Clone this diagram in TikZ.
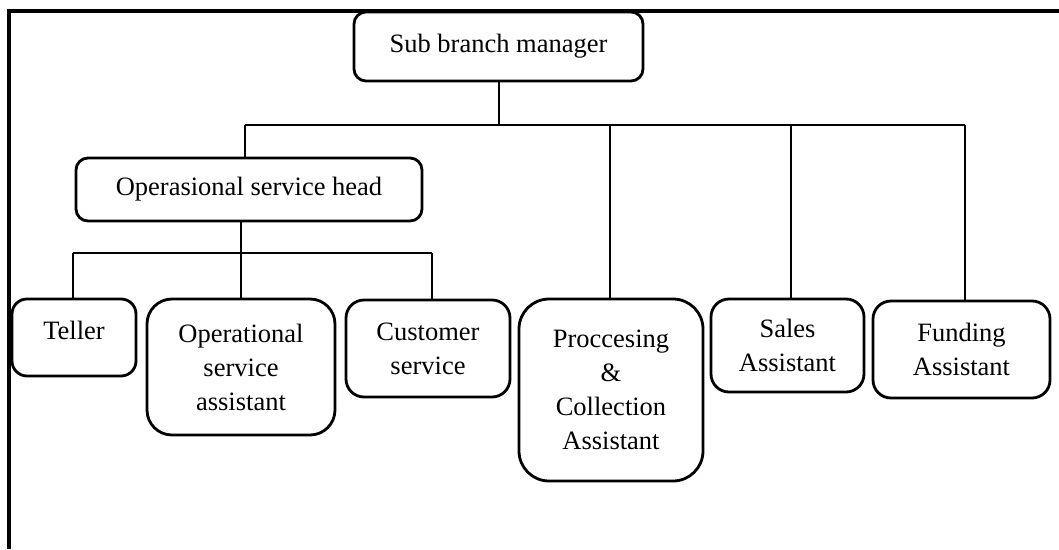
\documentclass[tikz,border=0pt]{standalone}
\usepackage{fontspec}
\setmainfont{Liberation Serif}
\begin{document}
\begin{tikzpicture}[x=1pt,y=-1pt,
  line width=2.8pt,
  box/.style={draw, align=center, inner sep=0pt, font=\fontsize{26.5}{34}\selectfont},
  conn/.style={line width=2.8pt}]
\useasboundingbox (0,0) rectangle (1059,549);
% frame
\draw[line width=3.2pt] (9,549) -- (9,11) -- (1059,11);
% boxes
\node[box, rounded corners=12pt, minimum width=289pt, minimum height=69pt] (mgr) at (498.5,46.5) {Sub branch manager};
\node[box, rounded corners=12pt, minimum width=346pt, minimum height=63pt] (head) at (249,189.5) {Operasional service head};
\node[box, rounded corners=15pt, minimum width=124pt, minimum height=77pt, text depth=14pt] (teller) at (74,337.5) {Teller};
\node[box, rounded corners=25pt, minimum width=188pt, minimum height=136pt] (opa) at (241,367) {Operational\\service\\assistant};
\node[box, rounded corners=18pt, minimum width=164pt, minimum height=97pt] (cust) at (428,348.5) {Customer\\service};
\node[box, rounded corners=30pt, minimum width=184pt, minimum height=182pt] (proc) at (611,390) {Proccesing\\\&\\Collection\\Assistant};
\node[box, rounded corners=18pt, minimum width=153pt, minimum height=93pt] (sales) at (787.5,345.5) {\raisebox{-3pt}{Sales}\\\raisebox{-3pt}{Assistant}};
\node[box, rounded corners=18pt, minimum width=177pt, minimum height=97pt] (fund) at (961.5,349.5) {Funding\\Assistant};
% junction coordinates
\coordinate (barL) at (245,125);
\coordinate (barR) at (965,125);
\coordinate (jMgr) at (499,125);
\coordinate (jProc) at (610,125);
\coordinate (jSales) at (791,125);
\coordinate (bar2L) at (73,253);
\coordinate (bar2R) at (432,253);
\coordinate (jHead) at (241,253);
% top level connectors
\draw[conn] (mgr.south -| jMgr) -- (jMgr);
\draw[conn] (barL) -- (barR);
\draw[conn] (barL) -- (barL |- head.north);
\draw[conn] (jProc) -- (jProc |- proc.north);
\draw[conn] (jSales) -- (jSales |- sales.north);
\draw[conn] (barR) -- (barR |- fund.north);
% second level connectors
\draw[conn] (head.south -| jHead) -- (jHead |- opa.north);
\draw[conn] (bar2L) -- (bar2R);
\draw[conn] (bar2L) -- (bar2L |- teller.north);
\draw[conn] (bar2R) -- (bar2R |- cust.north);
\end{tikzpicture}
\end{document}
